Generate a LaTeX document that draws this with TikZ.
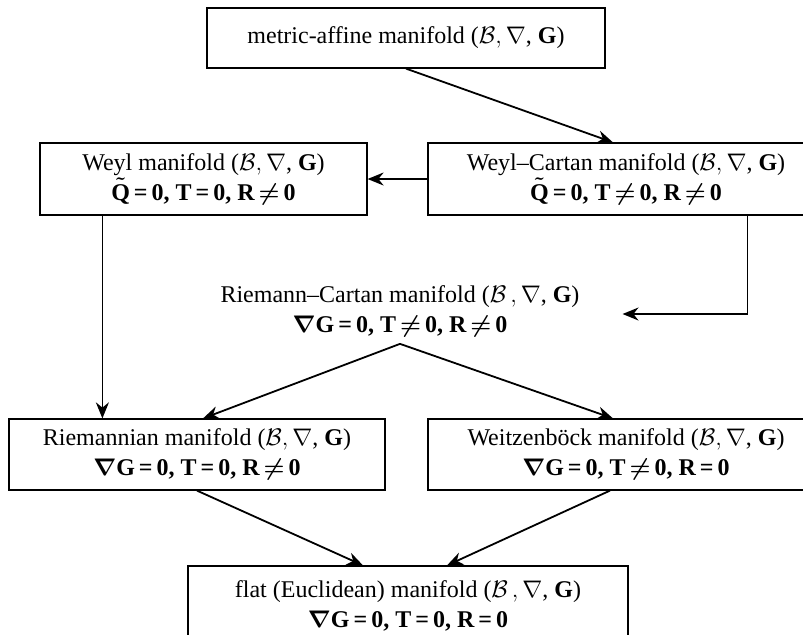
\documentclass[tikz,border=0pt]{standalone}
\usepackage{fontspec}
\setmainfont{Liberation Serif}
\usepackage{amsmath}
\usetikzlibrary{arrows.meta}

\tikzset{
  manifold/.style={draw, line width=0.6pt, align=center, inner sep=0pt,
    font=\fontsize{12}{15}\selectfont},
  plain/.style={align=center, font=\fontsize{12}{15}\selectfont},
  link/.style={line width=0.9pt, -{Stealth[length=8pt,width=6.5pt]}},
}

\begin{document}
\begin{tikzpicture}[x=0.5pt, y=-0.5pt]

  \useasboundingbox (0,0) rectangle (803,634);

  % Layout the manifolds
  \node[manifold, minimum width=199pt, minimum height=30pt] (metaff) at (406,38)
  {metric-affine manifold ($\mathcal{B},\nabla$, \textbf{G})}; %
  \node[manifold, minimum width=163.5pt, minimum height=36pt] (weyl) at (203.5,179)
  {Weyl manifold ($\mathcal{B},\nabla$, \textbf{G})\\
   {\bfseries\boldmath $\tilde{\text{Q}}$\,=\,0, T\,=\,0, R\,$\neq$\,0}}; %
  \node[manifold, minimum width=198pt, minimum height=36pt] (weylcartan) at (626,179)
  {Weyl--Cartan manifold ($\mathcal{B},\nabla$, \textbf{G})\\
   {\bfseries\boldmath $\tilde{\text{Q}}$\,=\,0, T\,$\neq$\,0, R\,$\neq$\,0}}; %
  \node[plain] (riemcartan) at (400,311)
  {Riemann--Cartan manifold ($\mathcal{B}\,,\nabla$, \textbf{G})\\
   {\bfseries\boldmath $\nabla$G\,=\,0, T\,$\neq$\,0, R\,$\neq$\,0}}; %
  \node[manifold, minimum width=188pt, minimum height=35.5pt] (riem) at (197,454.5)
  {Riemannian manifold ($\mathcal{B},\nabla$, \textbf{G})\\
   {\bfseries\boldmath $\nabla$G\,=\,0, T\,=\,0, R\,$\neq$\,0}}; %
  \node[manifold, minimum width=198pt, minimum height=35.5pt] (weitz) at (626,454.5)
  {Weitzenb\"ock manifold ($\mathcal{B},\nabla$, \textbf{G})\\
   {\bfseries\boldmath $\nabla$G\,=\,0, T\,$\neq$\,0, R\,=\,0}}; %
  \node[manifold, minimum width=220pt, minimum height=40pt] (flat) at (408,606)
  {flat (Euclidean) manifold ($\mathcal{B}\,,\nabla$, \textbf{G})\\
   {\bfseries\boldmath $\nabla$G\,=\,0, T\,=\,0, R\,=\,0}}; %

  % Connector ends
  \coordinate (weyl-out) at ([xshift=31.5pt]weyl.south west); %
  \coordinate (wc-out)   at ([xshift=160pt]weylcartan.south west); %

  % Connections
  \draw[link] (metaff.south)     -- ([xshift=-6.5pt]weylcartan.north); %
  \draw[link] (weylcartan.west)  -- (weyl.east); %
  \draw[link] (weyl-out)         -- (weyl-out |- riem.north); %
  \draw[link] (wc-out)           |- ([xshift=18pt,yshift=-1.5pt]riemcartan.east); %
  \draw[link] (riemcartan.south) -- ([xshift=3pt]riem.north); %
  \draw[link] (riemcartan.south) -- ([xshift=-6.5pt]weitz.north); %
  \draw[link] (riem.south)       -- ([xshift=-22.5pt]flat.north); %
  \draw[link] ([xshift=-8pt]weitz.south) -- ([xshift=19.5pt]flat.north); %

\end{tikzpicture}
\end{document}
